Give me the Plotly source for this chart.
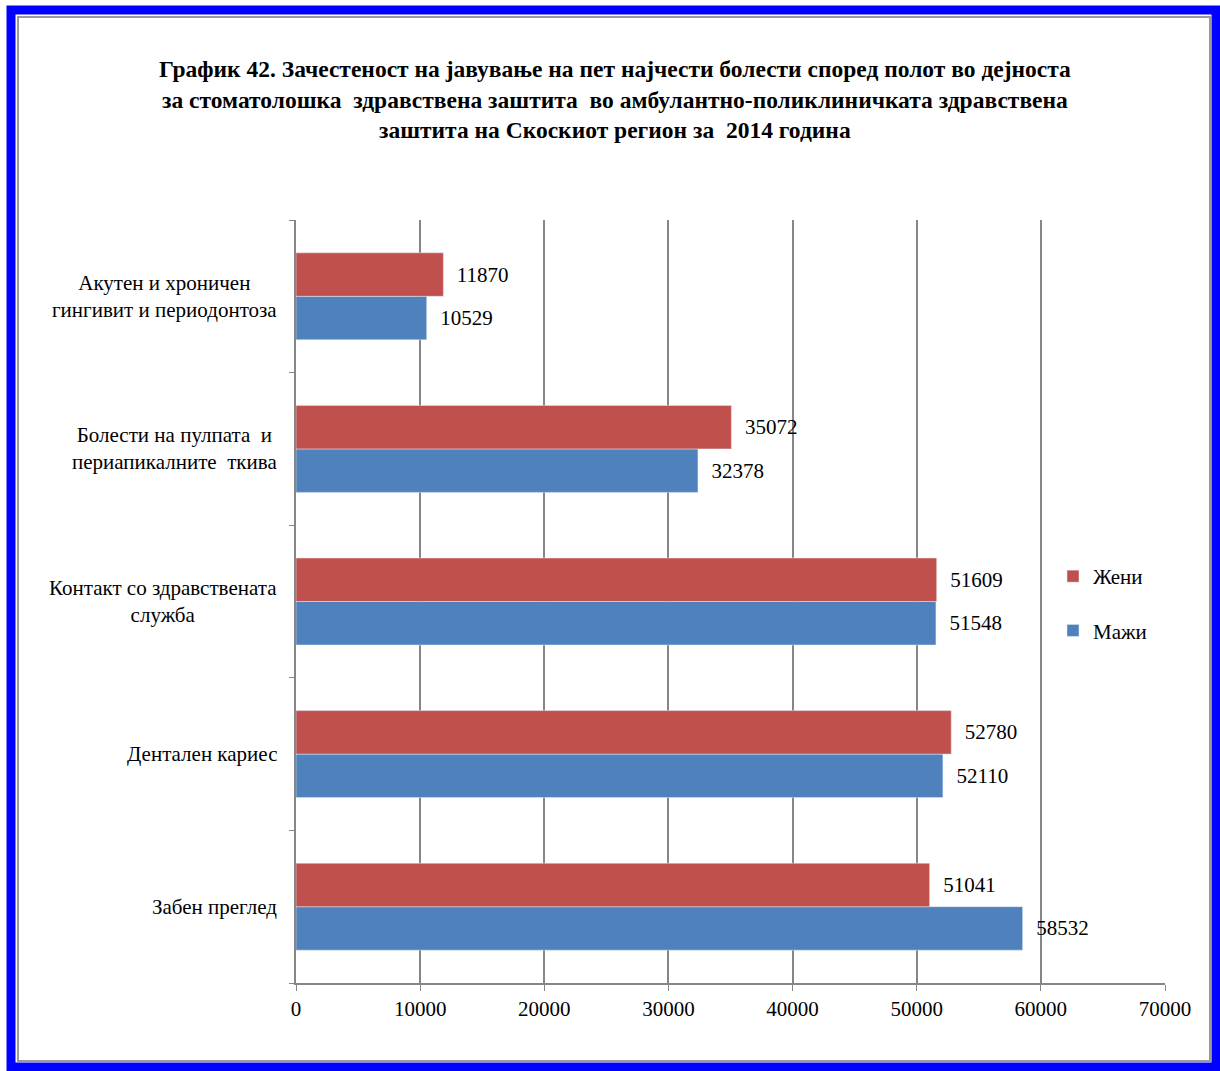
import plotly.graph_objects as go

############ Data ##############
# categories listed bottom -> top, as drawn on the category axis
categories = [
    "Забен преглед",
    "Дентален кариес",
    "Контакт со здравствената<br>служба",
    "Болести на пулпата  и<br>периапикалните  ткива",
    "Акутен и хроничен<br>гингивит и периодонтоза",
]
zeni = [51041, 52780, 51609, 35072, 11870]
mazi = [58532, 52110, 51548, 32378, 10529]
x_ticks = [0, 10000, 20000, 30000, 40000, 50000, 60000, 70000]

FONT = "Liberation Serif"
W, H = 1220, 1071
L, R, T, B = 296, 55, 220, 88


def px(x):
    return (x - L) / (W - L - R)


def py(y):
    return (H - B - y) / (H - T - B)


fig = go.Figure()

fig.add_trace(
    go.Bar(
        y=categories,
        x=mazi,
        name="Мажи",
        orientation="h",
        marker=dict(color="#4F81BD"),
        text=[str(v) for v in mazi],
        texttemplate="\u00a0\u00a0%{text}",
        textposition="outside",
        textfont=dict(family=FONT, size=21, color="black"),
        cliponaxis=False,
        legendgroup="m",
        legendrank=2,
    )
)
fig.add_trace(
    go.Bar(
        y=categories,
        x=zeni,
        name="Жени",
        orientation="h",
        marker=dict(color="#C0504D"),
        text=[str(v) for v in zeni],
        texttemplate="\u00a0\u00a0%{text}",
        textposition="outside",
        textfont=dict(family=FONT, size=21, color="black"),
        cliponaxis=False,
        legendgroup="z",
        legendrank=1,
    )
)

# category labels, centred block to the left of the axis
annotations = [
    dict(
        x=px(279),
        xref="paper",
        y=c,
        yref="y",
        text=c,
        showarrow=False,
        xanchor="right",
        align="center",
        font=dict(family=FONT, size=21, color="black"),
    )
    for c in categories
]

title_lines = [
    "График 42. Зачестеност на јавување на пет најчести болести според полот во дејноста",
    "за стоматолошка  здравствена заштита  во амбулантно-поликлиничката здравствена",
    "заштита на Скоскиот регион за  2014 година",
]
for i, line in enumerate(title_lines):
    annotations.append(
        dict(
            x=px(615),
            xref="paper",
            y=py(69 + 30.5 * i),
            yref="paper",
            text="<b>%s</b>" % line,
            showarrow=False,
            xanchor="center",
            yanchor="middle",
            font=dict(family=FONT, size=23.5, color="black"),
        )
    )

# outer frame: grey inner line and blue border
shapes = [
    dict(
        type="rect", xref="paper", yref="paper",
        x0=px(18), x1=px(1210), y0=py(17), y1=py(1061),
        line=dict(color="#9a9a9a", width=2), layer="below",
    ),
    dict(
        type="rect", xref="paper", yref="paper",
        x0=px(11), x1=px(1216), y0=py(10), y1=py(1067),
        line=dict(color="#0000FF", width=9), layer="below",
    ),
]

fig.update_layout(
    width=W,
    height=H,
    margin=dict(l=L, r=R, t=T, b=B),
    paper_bgcolor="white",
    plot_bgcolor="white",
    barmode="group",
    bargap=0.43,
    bargroupgap=0,
    font=dict(family=FONT, size=21, color="black"),
    annotations=annotations,
    shapes=shapes,
    showlegend=True,
    legend=dict(
        x=px(1053),
        y=py(556),
        xanchor="left",
        yanchor="top",
        tracegroupgap=24,
        font=dict(family=FONT, size=21, color="black"),
        itemwidth=30,
        bgcolor="rgba(0,0,0,0)",
    ),
    xaxis=dict(
        range=[0, 70000],
        tickvals=x_ticks,
        ticktext=[str(v) for v in x_ticks],
        showgrid=True,
        gridcolor="#868686",
        gridwidth=1.5,
        showline=True,
        linecolor="#868686",
        linewidth=1.5,
        ticks="outside",
        ticklen=6,
        tickcolor="#868686",
        zeroline=False,
        tickfont=dict(family=FONT, size=21, color="black"),
    ),
    yaxis=dict(
        type="category",
        categoryorder="array",
        categoryarray=categories,
        showticklabels=False,
        showline=True,
        linecolor="#868686",
        linewidth=1.5,
        ticks="outside",
        tickson="boundaries",
        ticklen=5,
        tickcolor="#868686",
        showgrid=False,
    ),
)

fig.write_html(
    "out.html",
    config={"displayModeBar": False},
    post_script="document.body.style.margin='0';",
)
